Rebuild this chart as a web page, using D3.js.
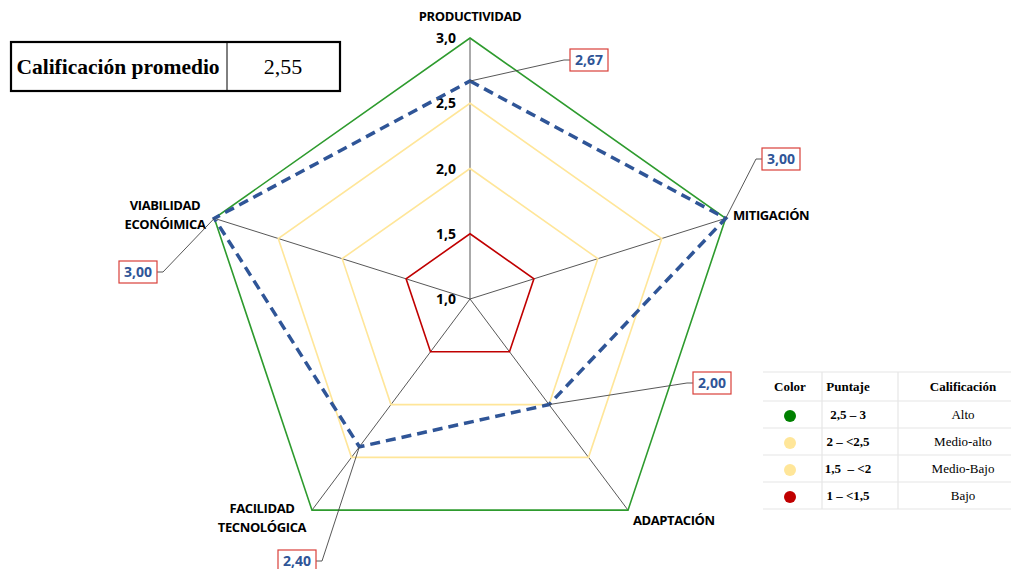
<!DOCTYPE html>
<meta charset="utf-8">
<head>
<style>
body { margin: 0; background: #fff; }
.axis-label { font-family: "Open Sans", "Liberation Sans", sans-serif; font-weight: bold; font-size: 13px; fill: #000; letter-spacing: -0.4px; }
.tick-label { font-family: "Open Sans", "Liberation Sans", sans-serif; font-weight: bold; font-size: 14px; fill: #000; }
.val-label { font-family: "Open Sans", "Liberation Sans", sans-serif; font-weight: bold; font-size: 14px; fill: #2f5597; }
.serif { font-family: "Liberation Serif", "Times New Roman", serif; }
</style>
<script src="https://d3js.org/d3.v7.min.js"></script>
</head>
<body>
<script>
// data
var categories = ["PRODUCTIVIDAD", "MITIGACIÓN", "ADAPTACIÓN", "FACILIDAD\nTECNOLÓGICA", "VIABILIDAD\nECONÓIMICA"];
var values = [2.67, 3.00, 2.00, 2.40, 3.00];
var valueLabels = ["2,67", "3,00", "2,00", "2,40", "3,00"];
var ringLevels = [1.5, 2.0, 2.5, 3.0];
var ringColors = ["#c00000", "#ffe699", "#ffe699", "#2e9b2e"];
var tickValues = [1.0, 1.5, 2.0, 2.5, 3.0];
var tickLabels = ["1,0", "1,5", "2,0", "2,5", "3,0"];
var promedioLabel = "Calificación promedio";
var promedioValue = "2,55";
var legendHeader = ["Color", "Puntaje", "Calificación"];
var legendColors = ["#008000", "#ffe699", "#ffe699", "#c00000"];
var legendRanges = ["2,5 – 3", "2 – <2,5", "1,5  – <2", "1 – <1,5"];
var legendNames = ["Alto", "Medio-alto", "Medio-Bajo", "Bajo"];

var W = 1011, H = 569;
var cx = 470, cy = 299, xStretch = 1.03;

var svg = d3.select("body").append("svg").attr("width", W).attr("height", H);

var r = d3.scaleLinear().domain([1, 3]).range([0, 261]);
var angle = d3.scaleLinear().domain([0, categories.length]).range([0, 2 * Math.PI]);

function pt(i, v) {
  var a = angle(i);
  return [cx + Math.sin(a) * r(v) * xStretch, cy - Math.cos(a) * r(v)];
}

// spokes
categories.forEach(function(c, i) {
  var p = pt(i, 3);
  svg.append("line")
    .attr("x1", cx).attr("y1", cy).attr("x2", p[0]).attr("y2", p[1])
    .attr("stroke", "#444").attr("stroke-width", 0.9);
});

// rings
var line = d3.line().curve(d3.curveLinearClosed);
ringLevels.forEach(function(lv, k) {
  svg.append("path")
    .attr("d", line(categories.map(function(c, i) { return pt(i, lv); })))
    .attr("fill", "none")
    .attr("stroke", ringColors[k])
    .attr("stroke-width", 1.6);
});

// tick labels
tickValues.forEach(function(t, i) {
  svg.append("text").attr("class", "tick-label")
    .attr("x", cx - 14).attr("y", cy - r(t) + 5)
    .attr("text-anchor", "end")
    .text(tickLabels[i]);
});

// series
svg.append("path")
  .attr("d", line(values.map(function(v, i) { return pt(i, v); })))
  .attr("fill", "none")
  .attr("stroke", "#2f5597")
  .attr("stroke-width", 3.5)
  .attr("stroke-dasharray", "10,6");

// category labels
var catPos = [
  {x: 470, y: 21, anchor: "middle"},
  {x: 733, y: 220, anchor: "start"},
  {x: 633, y: 525, anchor: "start"},
  {x: 262, y: 513, anchor: "middle"},
  {x: 165, y: 210, anchor: "middle"}
];
categories.forEach(function(c, i) {
  var t = svg.append("text").attr("class", "axis-label")
    .attr("x", catPos[i].x).attr("y", catPos[i].y)
    .attr("text-anchor", catPos[i].anchor);
  c.split("\n").forEach(function(s, j) {
    t.append("tspan").attr("x", catPos[i].x).attr("dy", j ? 19 : 0).text(s);
  });
});

// data labels with leader lines
var boxPos = [
  {x: 589, y: 60, side: "left"},
  {x: 781, y: 159, side: "left"},
  {x: 712, y: 383, side: "left"},
  {x: 297, y: 561, side: "right"},
  {x: 138, y: 272, side: "right"}
];
values.forEach(function(v, i) {
  var p = pt(i, v), b = boxPos[i];
  var bw = 38, bh = 22;
  var ex = b.side === "left" ? b.x - bw / 2 : b.x + bw / 2;
  var kx = b.side === "left" ? ex - 6 : ex + 6;
  svg.append("polyline")
    .attr("points", [[p[0], p[1]], [kx, b.y], [ex, b.y]].map(function(q) { return q.join(","); }).join(" "))
    .attr("fill", "none").attr("stroke", "#444").attr("stroke-width", 0.9);
  svg.append("rect")
    .attr("x", b.x - bw / 2).attr("y", b.y - bh / 2)
    .attr("width", bw).attr("height", bh)
    .attr("fill", "#fff").attr("stroke", "#d9403a").attr("stroke-width", 1.2);
  svg.append("text").attr("class", "val-label")
    .attr("x", b.x).attr("y", b.y + 5)
    .attr("text-anchor", "middle")
    .text(valueLabels[i]);
});

// promedio box
var pb = svg.append("g");
pb.append("rect").attr("x", 11).attr("y", 42).attr("width", 329).attr("height", 49)
  .attr("fill", "#fff").attr("stroke", "#000").attr("stroke-width", 2.2);
pb.append("line").attr("x1", 227).attr("x2", 227).attr("y1", 42).attr("y2", 91)
  .attr("stroke", "#000").attr("stroke-width", 1);
pb.append("text").attr("class", "serif").attr("x", 118).attr("y", 74)
  .attr("text-anchor", "middle").attr("font-size", 21.5).attr("font-weight", "bold")
  .text(promedioLabel);
pb.append("text").attr("class", "serif").attr("x", 283).attr("y", 74)
  .attr("text-anchor", "middle").attr("font-size", 22)
  .text(promedioValue);

// legend table
var lg = svg.append("g");
var colX = [790, 848, 963];
var hLines = [372, 401, 428, 455, 482, 509];
hLines.forEach(function(y) {
  lg.append("line").attr("x1", 763).attr("x2", 1011).attr("y1", y).attr("y2", y)
    .attr("stroke", "#e6e6e6").attr("stroke-width", 1.2);
});
[822, 898].forEach(function(x) {
  lg.append("line").attr("x1", x).attr("x2", x).attr("y1", 372).attr("y2", 509)
    .attr("stroke", "#e6e6e6").attr("stroke-width", 1.2);
});
legendHeader.forEach(function(h, i) {
  lg.append("text").attr("class", "serif").attr("x", colX[i]).attr("y", 391)
    .attr("text-anchor", "middle").attr("font-size", 13).attr("font-weight", "bold").text(h);
});
legendNames.forEach(function(n, k) {
  var y = 415 + k * 27;
  lg.append("circle").attr("cx", colX[0]).attr("cy", y + 1).attr("r", 6).attr("fill", legendColors[k]);
  lg.append("text").attr("class", "serif").attr("x", colX[1]).attr("y", y + 4)
    .attr("text-anchor", "middle").attr("font-size", 13).attr("font-weight", "bold")
    .style("white-space", "pre").text(legendRanges[k]);
  lg.append("text").attr("class", "serif").attr("x", colX[2]).attr("y", y + 4)
    .attr("text-anchor", "middle").attr("font-size", 13).text(n);
});
</script>
</body>
</html>
